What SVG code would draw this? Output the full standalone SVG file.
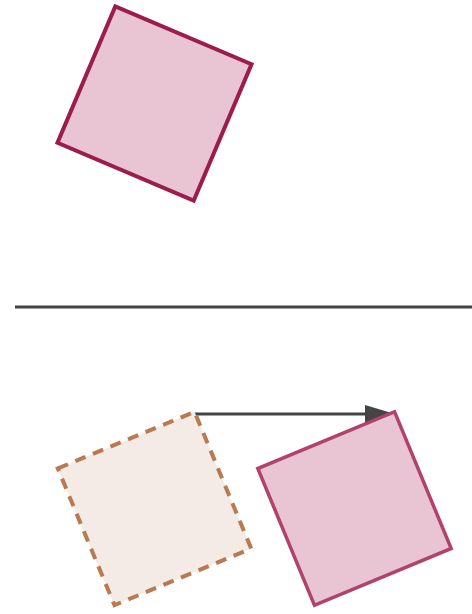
<svg xmlns="http://www.w3.org/2000/svg" width="472" height="614" viewBox="0 0 472 614">
<defs>
<style>
.solid{fill:#e9c4d2;stroke:#9c1c4c;stroke-width:4;stroke-linejoin:miter}
.solid2{fill:#e9c4d2;stroke:#b0426c;stroke-width:3.5;stroke-linejoin:miter}
.dashed{fill:#f5ebe6;stroke:#b97a52;stroke-width:4;stroke-dasharray:11 8}
.line{stroke:#444;stroke-width:3;fill:none}
</style>
<marker id="arr" markerWidth="10" markerHeight="6" refX="10" refY="3" orient="auto" markerUnits="strokeWidth">
<path d="M0,0 L10,3 L0,6 Z" fill="#444"/>
</marker>
</defs>
<g id="divider"><line class="line" x1="15" y1="307" x2="472" y2="307"/></g>
<g id="connectors">
<line class="line" x1="194" y1="414" x2="395" y2="414" marker-end="url(#arr)"/>
</g>
<g id="square-top"><rect class="solid" x="-74" y="-74" width="148" height="148" transform="translate(154.5,103.5) rotate(23)"/></g>
<g id="square-ghost"><rect class="dashed" x="-74" y="-74" width="148" height="148" transform="translate(154.5,508.5) rotate(-22.5)"/></g>
<g id="square-moved"><rect class="solid2" x="-74" y="-74" width="148" height="148" transform="translate(354.5,508.5) rotate(-22.5)"/></g>
</svg>
